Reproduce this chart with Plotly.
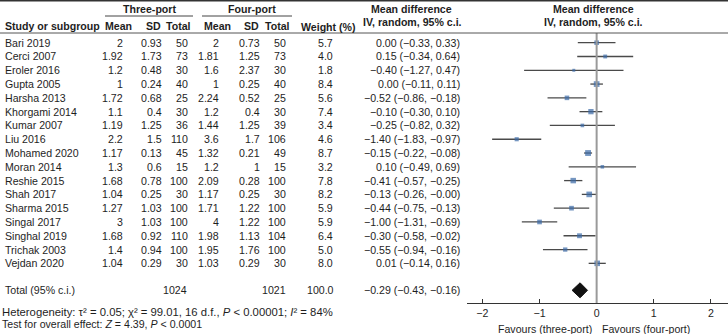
import plotly.graph_objects as go

studies = ["Bari 2019", "Cerci 2007", "Eroler 2016", "Gupta 2005", "Harsha 2013",
           "Khorgami 2014", "Kumar 2007", "Liu 2016", "Mohamed 2020", "Moran 2014",
           "Reshie 2015", "Shah 2017", "Sharma 2015", "Singal 2017", "Singhal 2019",
           "Trichak 2003", "Vejdan 2020"]
three_mean = ["2", "1.92", "1.2", "1", "1.72", "1.1", "1.19", "2.2", "1.17", "1.3",
              "1.68", "1.04", "1.27", "3", "1.68", "1.4", "1.04"]
three_sd = ["0.93", "1.73", "0.48", "0.24", "0.68", "0.4", "1.25", "1.5", "0.13", "0.6",
            "0.78", "0.25", "1.03", "1.03", "0.92", "0.94", "0.29"]
three_n = [50, 73, 30, 40, 25, 30, 36, 110, 45, 15, 100, 30, 100, 100, 110, 100, 30]
four_mean = ["2", "1.81", "1.6", "1", "2.24", "1.2", "1.44", "3.6", "1.32", "1.2",
             "2.09", "1.17", "1.71", "4", "1.98", "1.95", "1.03"]
four_sd = ["0.73", "1.25", "2.37", "0.25", "0.52", "0.4", "1.25", "1.7", "0.21", "1",
           "0.28", "0.25", "1.22", "1.22", "1.13", "1.76", "0.29"]
four_n = [50, 73, 30, 40, 25, 30, 39, 106, 49, 15, 100, 30, 100, 100, 104, 100, 30]
weights = [5.7, 4.0, 1.8, 8.4, 5.6, 7.4, 3.4, 4.6, 8.7, 3.2, 7.8, 8.2, 5.9, 5.9, 6.4, 5.0, 8.0]
md = [0.00, 0.15, -0.40, 0.00, -0.52, -0.10, -0.25, -1.40, -0.15, 0.10,
      -0.41, -0.13, -0.44, -1.00, -0.30, -0.55, 0.01]
ci_lo = [-0.33, -0.34, -1.27, -0.11, -0.86, -0.30, -0.82, -1.83, -0.22, -0.49,
         -0.57, -0.26, -0.75, -1.31, -0.58, -0.94, -0.14]
ci_hi = [0.33, 0.64, 0.47, 0.11, -0.18, 0.10, 0.32, -0.97, -0.08, 0.69,
         -0.25, -0.0, -0.13, -0.69, -0.02, -0.16, 0.16]
total_three = 1024
total_four = 1021
total_weight = 100.0
total_md, total_lo, total_hi = -0.29, -0.43, -0.16
x_ticks = [-2, -1, 0, 1, 2]

W, H = 728, 334
FONT = "Liberation Sans, Arial, Helvetica, sans-serif"
TXT = "#1e1e1e"
FS = 10.6

def fmt(v):
    s = f"{v:.2f}"
    return s.replace("-", "\u2212")

def ymap(i):
    return 42.7 + i * 13.79

ann = []
def add(text, px, py, anchor="left", bold=False, size=FS):
    if bold:
        text = f"<b>{text}</b>"
    ann.append(dict(text=text, x=px / W, y=py, xref="paper", yref="y",
                    xanchor=anchor, yanchor="middle", showarrow=False,
                    font=dict(family=FONT, size=size, color=TXT)))

# headers
add("Three-port", 149, 9.3, "center", True)
add("Four-port", 252, 9.3, "center", True)
add("Study or subgroup", 3, 25.7, "left", True)
add("Mean", 118, 25.7, "center", True)
add("SD", 153, 25.7, "center", True)
add("Total", 193, 25.7, "right", True)
add("Mean", 217, 25.7, "center", True)
add("SD", 251, 25.7, "center", True)
add("Total", 292, 25.7, "right", True)
add("Weight (%)", 328, 26.7, "center", True)
add("Mean difference", 411, 8.6, "center", True)
add("IV, random, 95% c.i.", 412, 22.3, "center", True)
add("Mean difference", 593, 8.6, "center", True)
add("IV, random, 95% c.i.", 593, 22.3, "center", True)

for i, s in enumerate(studies):
    y = ymap(i)
    add(s, 3, y)
    add(three_mean[i], 125, y, "right")
    add(three_sd[i], 164, y, "right")
    add(str(three_n[i]), 190, y, "right")
    add(four_mean[i], 221, y, "right")
    add(four_sd[i], 262, y, "right")
    add(str(four_n[i]), 288, y, "right")
    add(f"{weights[i]:.1f}", 335, y, "right")
    add(f"{fmt(md[i])} ({fmt(ci_lo[i])}, {fmt(ci_hi[i])})", 462, y, "right")

ty = 290.3
add("Total (95% c.i.)", 3, ty)
add(str(total_three), 189, ty, "right")
add(str(total_four), 288, ty, "right")
add(f"{total_weight:.1f}", 336, ty, "right")
add(f"{fmt(total_md)} ({fmt(total_lo)}, {fmt(total_hi)})", 462, ty, "right")

add("Heterogeneity: \u03c4\u00b2 = 0.05; \u03c7\u00b2 = 99.01, 16 d.f., <i>P</i> &lt; 0.00001; <i>I</i>\u00b2 = 84%",
    0, 312.3, size=11.3)
add("Test for overall effect: <i>Z</i> = 4.39, <i>P</i> &lt; 0.0001", 0, 323.7)

add("Favours (three-port)", 545, 328.5, "center")
add("Favours (four-port)", 646, 328.5, "center")

fig = go.Figure()

shapes = [
    dict(type="line", xref="x", yref="y", x0=0, x1=0, y0=33, y1=303,
         line=dict(color="#9a9a9a", width=2)),
    dict(type="line", xref="paper", yref="y", x0=0, x1=1, y0=0.8, y1=0.8,
         line=dict(color="#333333", width=1.5)),
    dict(type="line", xref="paper", yref="y", x0=0, x1=1, y0=33, y1=33,
         line=dict(color="#555555", width=1)),
    dict(type="line", xref="paper", yref="y", x0=105 / W, x1=193 / W, y0=16, y1=16,
         line=dict(color="#444444", width=1)),
    dict(type="line", xref="paper", yref="y", x0=202 / W, x1=292 / W, y0=16, y1=16,
         line=dict(color="#444444", width=1)),
]

lx, ly = [], []
for i in range(len(studies)):
    y = ymap(i)
    lx += [ci_lo[i], ci_hi[i], None]
    ly += [y, y, None]
fig.add_trace(go.Scatter(x=lx, y=ly, mode="lines", line=dict(color="#4a4a4a", width=1.3),
                         hoverinfo="skip", showlegend=False, cliponaxis=False))
fig.add_trace(go.Scatter(x=md, y=[ymap(i) for i in range(len(studies))], mode="markers",
                         marker=dict(symbol="square", color="#3a6aa6",
                                     size=[2.2 + w * 0.42 for w in weights],
                                     line=dict(width=0)),
                         showlegend=False, cliponaxis=False))
fig.add_trace(go.Scatter(x=[total_lo, total_md, total_hi, total_md, total_lo],
                         y=[ty, ty - 7.5, ty, ty + 7.5, ty], mode="lines", fill="toself",
                         fillcolor="#111111", line=dict(color="#111111", width=1),
                         showlegend=False, cliponaxis=False))

fig.update_layout(
    width=W, height=H, margin=dict(l=0, r=0, t=0, b=0),
    paper_bgcolor="white", plot_bgcolor="white",
    annotations=ann, shapes=shapes,
    xaxis=dict(domain=[467 / W, 1], range=[-2.27, 2.30], anchor="free",
               position=1 - 303 / H, showline=True, linecolor="#333333", linewidth=1,
               ticks="inside", ticklen=4, tickcolor="#333333", tickvals=x_ticks,
               ticktext=[fmt(v).replace(".00", "") if v != 0 else "0" for v in x_ticks],
               tickfont=dict(family=FONT, size=FS, color=TXT), showgrid=False,
               zeroline=False, fixedrange=True),
    yaxis=dict(domain=[0, 1], range=[H, 0], visible=False, fixedrange=True),
    showlegend=False,
)
fig.write_html("out.html", config={"displayModeBar": False},
               post_script="document.body.style.margin='0px';document.body.style.overflow='hidden';")
